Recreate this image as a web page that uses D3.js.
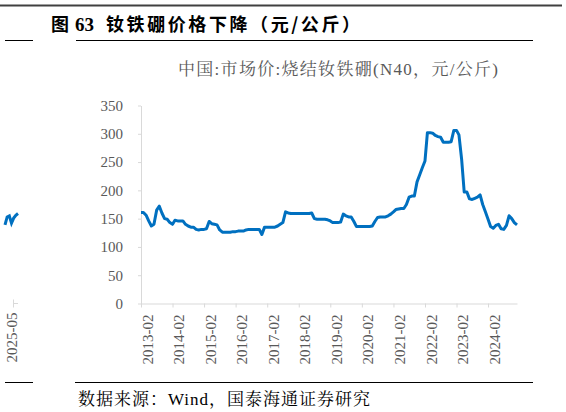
<!DOCTYPE html>
<html>
<head>
<meta charset="utf-8">
<title>钕铁硼价格</title>
<style>
  body { margin: 0; background: #fff; }
  svg { display: block; }
  .axis path, .axis line { stroke: #d9d9d9; }
</style>
</head>
<body>
<svg width="566" height="412"></svg>
<script src="https://cdn.jsdelivr.net/npm/d3@7/dist/d3.min.js"></script>
<script>
// 数据：月度价格，从 2013-02 开始
var startMonth = "2013-02";
var prices = [
  161, 161, 156, 146, 137, 140, 165, 172, 160, 150, 149, 143,
  140, 147, 146, 146, 146, 140, 137, 135, 135, 131, 130, 131,
  131, 132, 145, 141, 140, 139, 130, 126, 126, 126, 126, 127,
  127, 128, 128, 128, 130, 131, 131, 131, 131, 131, 122, 135,
  135, 135, 135, 135, 137, 140, 143, 162, 160, 159, 159, 159,
  159, 159, 159, 159, 159, 160, 150, 149, 149, 149, 149, 148,
  146, 143, 143, 143, 144, 158, 155, 153, 153, 145, 136, 136,
  136, 136, 136, 136, 137, 145, 152, 153, 153, 153, 155, 158,
  162, 166, 167, 168, 168, 175, 188, 190, 190, 215, 227, 240,
  252, 302, 302, 301, 297, 295, 294, 285, 285, 285, 286, 306,
  306, 298, 255, 197, 197, 185, 184, 186, 188, 192, 175, 162,
  149, 136, 133, 138, 140, 132, 131, 138, 155, 150, 143, 139
];
var xTickLabels = ["2013-02", "2014-02", "2015-02", "2016-02", "2017-02", "2018-02",
                   "2019-02", "2020-02", "2021-02", "2022-02", "2023-02", "2024-02"];
var yTicks = [0, 50, 100, 150, 200, 250, 300, 350];

// 左侧被裁切的上一张图的残余部分
var leftFragment = [139, 153, 155, 142, 151, 156, 159];
var leftFragmentLabel = "2025-05";

var SERIF = "'Liberation Serif', 'Noto Serif CJK SC', serif";
var HEI = "'Noto Sans CJK SC', sans-serif";

var parseMonth = d3.timeParse("%Y-%m");
var start = parseMonth(startMonth);
var dates = prices.map(function(d, i) { return d3.timeMonth.offset(start, i); });

var svg = d3.select("svg");

// 比例尺
var x = d3.scaleTime()
  .domain([dates[0], dates[dates.length - 1]])
  .range([141, 517]);
var y = d3.scaleLinear().domain([0, 350]).range([303.5, 105.5]);

// 页眉线条与标题
svg.append("line").attr("x1", 0).attr("x2", 562).attr("y1", 5.5).attr("y2", 5.5)
  .attr("stroke", "#404040").attr("stroke-width", 2);
svg.append("line").attr("x1", 5).attr("x2", 33).attr("y1", 40.5).attr("y2", 40.5)
  .attr("stroke", "#000").attr("stroke-width", 1);
svg.append("line").attr("x1", 76).attr("x2", 533).attr("y1", 40.5).attr("y2", 40.5)
  .attr("stroke", "#000").attr("stroke-width", 1);

svg.append("text").attr("x", 51).attr("y", 31)
  .style("font-size", "18px").style("font-weight", "bold")
  .style("font-family", HEI)
  .text("图");
svg.append("text").attr("x", 75).attr("y", 31)
  .style("font-size", "19px").style("font-weight", "bold")
  .style("font-family", SERIF)
  .text("63");
svg.append("text").attr("x", 106).attr("y", 31)
  .style("font-size", "18px").style("font-weight", "bold")
  .style("font-family", HEI)
  .attr("textLength", 254).attr("lengthAdjust", "spacing")
  .text("钕铁硼价格下降（元/公斤）");

// 图例标题
svg.append("text").attr("x", 178).attr("y", 75)
  .style("font-size", "17px").style("font-family", SERIF)
  .attr("fill", "#595959")
  .attr("textLength", 320).attr("lengthAdjust", "spacing")
  .text("中国:市场价:烧结钕铁硼(N40，元/公斤)");

// y轴
var yAxis = svg.append("g")
  .attr("class", "axis axis--y")
  .attr("transform", "translate(" + x.range()[0] + ",0)")
  .call(d3.axisLeft(y).tickValues(yTicks).tickSize(3).tickSizeOuter(0).tickPadding(15));
yAxis.selectAll("text")
  .attr("fill", "#595959")
  .style("font-family", SERIF).style("font-size", "15px");

// x轴
var xAxis = svg.append("g")
  .attr("class", "axis axis--x")
  .attr("transform", "translate(0," + y(0) + ")")
  .call(d3.axisBottom(x)
    .tickValues(xTickLabels.map(parseMonth))
    .tickFormat(d3.timeFormat("%Y-%m"))
    .tickSize(4).tickSizeOuter(0));
xAxis.selectAll("text")
  .attr("fill", "#595959")
  .style("font-family", SERIF).style("font-size", "15px")
  .attr("text-anchor", "end")
  .attr("transform", "translate(0,11) rotate(-90)")
  .attr("x", 0).attr("y", 0)
  .attr("dy", "0.74em");

// 折线
var line = d3.line()
  .x(function(d, i) { return x(dates[i]); })
  .y(function(d) { return y(d); });

svg.append("path")
  .datum(prices)
  .attr("fill", "none")
  .attr("stroke", "#0070c0")
  .attr("stroke-width", 3)
  .attr("stroke-linejoin", "round")
  .attr("d", line);

// 左侧残余部分
var xf = d3.scaleLinear().domain([0, leftFragment.length - 1]).range([5, 18]);
svg.append("path")
  .datum(leftFragment)
  .attr("fill", "none")
  .attr("stroke", "#0070c0")
  .attr("stroke-width", 3)
  .attr("d", d3.line().x(function(d, i) { return xf(i); }).y(function(d) { return y(d); }));
svg.append("line").attr("x1", 13.5).attr("x2", 13.5).attr("y1", y(0) - 4).attr("y2", y(0) + 4)
  .attr("stroke", "#d9d9d9");
svg.append("line").attr("x1", 13.5).attr("x2", 18).attr("y1", y(0)).attr("y2", y(0))
  .attr("stroke", "#d9d9d9");
svg.append("text")
  .attr("transform", "translate(6," + (y(0) + 9) + ") rotate(-90)")
  .attr("text-anchor", "end")
  .attr("dy", "0.74em")
  .attr("fill", "#595959")
  .style("font-family", SERIF).style("font-size", "15px")
  .text(leftFragmentLabel);

// 页脚
svg.append("line").attr("x1", 5).attr("x2", 33).attr("y1", 382.5).attr("y2", 382.5)
  .attr("stroke", "#000").attr("stroke-width", 1);
svg.append("line").attr("x1", 75).attr("x2", 533).attr("y1", 382.5).attr("y2", 382.5)
  .attr("stroke", "#000").attr("stroke-width", 1);
svg.append("text").attr("x", 78).attr("y", 405)
  .style("font-size", "17px").style("font-family", SERIF)
  .attr("textLength", 292).attr("lengthAdjust", "spacing")
  .text("数据来源：Wind，国泰海通证券研究");
</script>
</body>
</html>
